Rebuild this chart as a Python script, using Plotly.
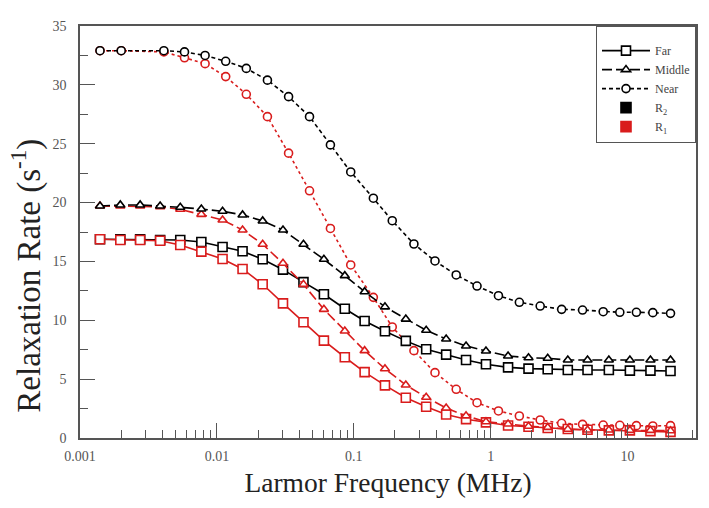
import plotly.graph_objects as go

# Frequencies (MHz) for Far / Middle series
freq_fm = [0.0014, 0.00197, 0.00275, 0.00385, 0.0054, 0.0077, 0.011, 0.0154, 0.0216, 0.0304,
           0.0429, 0.0605, 0.086, 0.12, 0.169, 0.24, 0.338, 0.473, 0.661, 0.924,
           1.34, 1.89, 2.61, 3.66, 5.1, 7.3, 10.4, 14.7, 20.6]
# Frequencies (MHz) for Near series
freq_near = [0.0014, 0.002, 0.0041, 0.0058, 0.0082, 0.0116, 0.0164, 0.0234, 0.0334, 0.0475,
             0.0675, 0.095, 0.139, 0.191, 0.275, 0.392, 0.56, 0.795, 1.14, 1.62,
             2.3, 3.3, 4.69, 6.64, 8.78, 11.6, 15.3, 20.6]

far_r2 = [16.88, 16.88, 16.88, 16.82, 16.82, 16.65, 16.22, 15.86, 15.18, 14.3, 13.24, 12.21, 10.98, 9.94, 9.07,
          8.25, 7.54, 7.08, 6.63, 6.26, 6.0, 5.89, 5.84, 5.78, 5.78, 5.78, 5.72, 5.72, 5.69]
far_r1 = [16.88, 16.82, 16.82, 16.76, 16.4, 15.83, 15.21, 14.36, 13.06, 11.44, 9.83, 8.27, 6.86, 5.6, 4.47,
          3.42, 2.66, 2.0, 1.6, 1.33, 1.06, 0.96, 0.85, 0.76, 0.7, 0.65, 0.65, 0.58, 0.52]
mid_r2 = [19.71, 19.8, 19.8, 19.71, 19.6, 19.45, 19.26, 18.95, 18.44, 17.67, 16.46, 15.18, 13.79, 12.43, 11.14,
          10.1, 9.15, 8.41, 7.82, 7.39, 6.97, 6.82, 6.77, 6.63, 6.63, 6.63, 6.63, 6.63, 6.63]
mid_r1 = [19.71, 19.71, 19.71, 19.65, 19.43, 19.0, 18.52, 17.67, 16.46, 14.84, 13.05, 10.93, 9.09, 7.42, 5.88,
          4.5, 3.46, 2.55, 1.88, 1.38, 1.19, 1.0, 0.9, 0.74, 0.68, 0.68, 0.65, 0.65, 0.62]
near_r2 = [32.9, 32.9, 32.9, 32.8, 32.5, 32.0, 31.4, 30.4, 29.0, 27.3, 24.9, 22.6, 20.37, 18.46, 16.48,
           15.04, 13.85, 12.91, 12.09, 11.53, 11.21, 10.93, 10.87, 10.73, 10.68, 10.68, 10.65, 10.59]
near_r1 = [32.9, 32.9, 32.8, 32.3, 31.8, 30.7, 29.2, 27.3, 24.2, 21.0, 17.8, 14.7, 11.95, 9.43, 7.42,
           5.55, 4.14, 3.0, 2.3, 1.87, 1.53, 1.25, 1.16, 1.1, 1.08, 1.05, 1.02, 1.05]

x_tickvals = [0.001, 0.01, 0.1, 1, 10]
x_ticktext = ["0.001", "0.01", "0.1", "1", "10"]
y_tickvals = [0, 5, 10, 15, 20, 25, 30, 35]

BLACK = "#000000"
RED = "#d91c1c"
FONT = "Liberation Serif"

fig = go.Figure()

def series(x, y, color, symbol, dash, size=8):
    fig.add_trace(go.Scatter(
        x=x, y=y, mode="lines+markers", showlegend=False,
        line=dict(color=color, width=1.6, dash=dash),
        marker=dict(symbol=symbol, size=size, color="white",
                    line=dict(color=color, width=1.6)),
        hoverinfo="skip"))

NEAR_DASH = "4px,3px"
MID_DASH = "10px,4px"

series(freq_near, near_r1, RED, "circle", "3px,3px", 8)
series(freq_near, near_r2, BLACK, "circle", NEAR_DASH, 8)
series(freq_fm, far_r2, BLACK, "square", "solid", 9)
series(freq_fm, far_r1, RED, "square", "solid", 9)
series(freq_fm, mid_r1, RED, "triangle-up", MID_DASH, 8)
series(freq_fm, mid_r2, BLACK, "triangle-up", MID_DASH, 8)

# legend entries
def leg(name, color, symbol, dash, mode, fill="white", size=9):
    fig.add_trace(go.Scatter(
        x=[None], y=[None], mode=mode, name=name,
        line=dict(color=color, width=1.6, dash=dash),
        marker=dict(symbol=symbol, size=size, color=fill, line=dict(color=color, width=1.6))))

leg("Far", BLACK, "square", "solid", "lines+markers")
leg("Middle", BLACK, "triangle-up", MID_DASH, "lines+markers", size=8)
leg("Near", BLACK, "circle", NEAR_DASH, "lines+markers", size=8)
leg("R<sub>2</sub>", BLACK, "square", "solid", "markers", fill=BLACK, size=10)
leg("R<sub>1</sub>", RED, "square", "solid", "markers", fill=RED, size=10)

minor_x = []
for dec in [0.001, 0.01, 0.1, 1, 10]:
    for m in range(2, 10):
        v = dec * m
        if v <= 31:
            minor_x.append(v)

fig.update_layout(
    width=709, height=508,
    margin=dict(l=80, r=11, t=26, b=70),
    paper_bgcolor="white", plot_bgcolor="white",
    font=dict(family=FONT, color="#444"),
    legend=dict(x=1, xanchor="right", y=1, yanchor="top",
                bgcolor="white", bordercolor="#555", borderwidth=1,
                font=dict(family=FONT, size=12, color="#444"),
                title=dict(text=" ", font=dict(size=7)),
                tracegroupgap=0, itemwidth=48),
    xaxis=dict(type="log", range=[-3, 1.5],
               tickvals=x_tickvals, ticktext=x_ticktext,
               ticks="inside", ticklen=15, tickwidth=1.2, tickcolor="#555",
               minor=dict(tickvals=minor_x, ticks="inside", ticklen=8, tickwidth=1.2, tickcolor="#555", showgrid=False),
               showline=True, linecolor="#555", linewidth=1.5, mirror=True,
               showgrid=False, zeroline=False,
               tickfont=dict(family=FONT, size=14, color="#555"),
               ticklabelstandoff=4,
               title=dict(text="Larmor Frequency (MHz)", font=dict(family=FONT, size=27.5, color="#222"), standoff=10)),
    yaxis=dict(range=[0, 35], tickvals=y_tickvals,
               ticks="inside", ticklen=15, tickwidth=1.2, tickcolor="#555",
               minor=dict(dtick=2.5, ticks="inside", ticklen=8, tickwidth=1.2, tickcolor="#555", showgrid=False),
               showline=True, linecolor="#555", linewidth=1.5, mirror=True,
               showgrid=False, zeroline=False,
               tickfont=dict(family=FONT, size=14, color="#555"),
               ticklabelstandoff=9),
    annotations=[dict(text="Relaxation Rate (s<sup>-1</sup>)", xref="paper", yref="paper",
                      x=-0.087, y=0.395, xanchor="center", yanchor="middle", textangle=-90,
                      showarrow=False, font=dict(family=FONT, size=33, color="#222"))],
)

fig.write_html("out.html")
